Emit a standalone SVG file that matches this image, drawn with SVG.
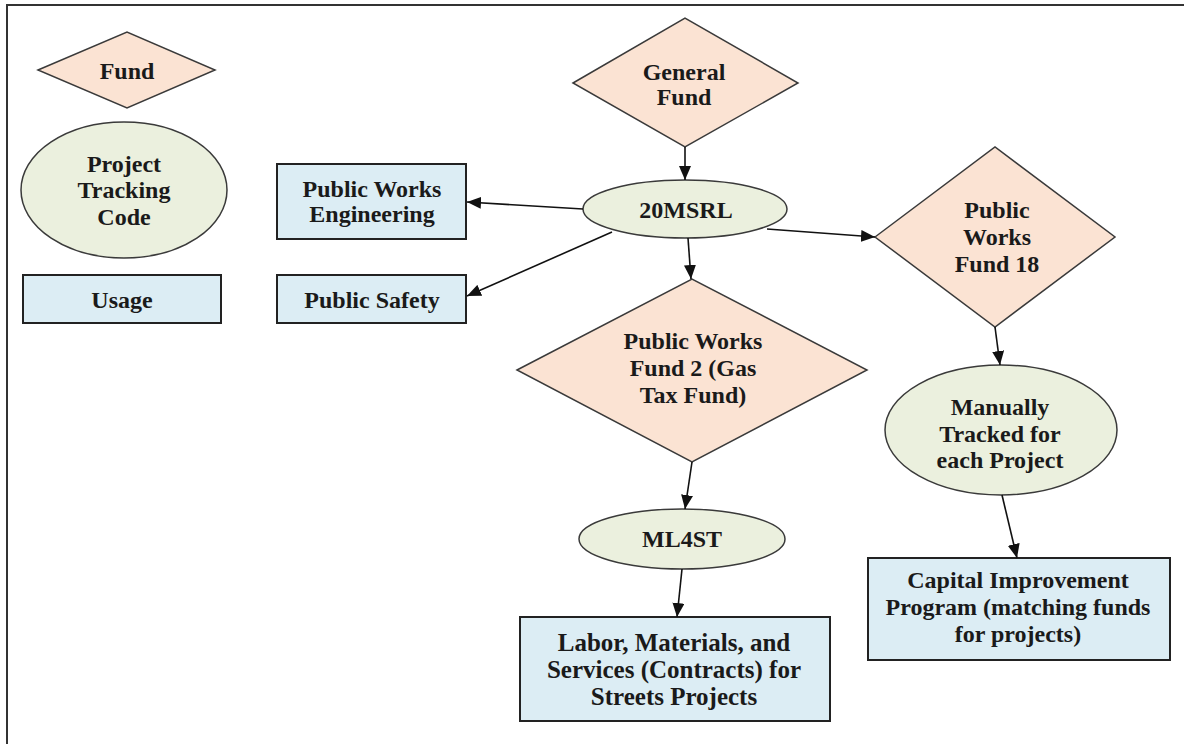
<svg xmlns="http://www.w3.org/2000/svg" width="1184" height="744" viewBox="0 0 1184 744">
<defs>
<marker id="ah" markerUnits="userSpaceOnUse" markerWidth="14" markerHeight="12" refX="14" refY="6" orient="auto">
<path d="M0,0 L14,6 L0,12 z" fill="#111"/>
</marker>
<style>
.fund{fill:#FBE3D3;stroke:#3a3a3a;stroke-width:1.5}
.code{fill:#EBF0DE;stroke:#3a3a3a;stroke-width:1.5}
.use{fill:#DCEDF4;stroke:#222;stroke-width:2}
.t{font-family:"Liberation Serif","Times New Roman",serif;font-weight:bold;font-size:24px;fill:#1a1a1a;text-anchor:middle}
.big{font-size:25px}
.c{fill:none;stroke:#111;stroke-width:1.6;marker-end:url(#ah)}
</style>
</defs>
<rect width="1184" height="744" fill="#fff"/>
<path d="M7,744 L7,5 L1184,5" fill="none" stroke="#333" stroke-width="2"/>

<g id="legend-fund">
<polygon class="fund" points="38,70 127,32 215,70 127,108"/>
<text class="t" x="127" y="79">Fund</text>
</g>
<g id="legend-code">
<ellipse class="code" cx="124" cy="190" rx="103" ry="68"/>
<text class="t" x="124" y="172">Project</text>
<text class="t" x="124" y="198">Tracking</text>
<text class="t" x="124" y="225">Code</text>
</g>
<g id="legend-usage">
<rect class="use" x="23" y="275" width="198" height="48"/>
<text class="t" x="122" y="308">Usage</text>
</g>

<g id="general-fund">
<polygon class="fund" points="573,83 685,18 798,83 685,147"/>
<text class="t" x="684" y="80">General</text>
<text class="t" x="684" y="105">Fund</text>
</g>
<g id="c20msrl">
<ellipse class="code" cx="685" cy="209" rx="102" ry="29"/>
<text class="t" x="686" y="218">20MSRL</text>
</g>
<g id="pw-engineering">
<rect class="use" x="277" y="164" width="189" height="75"/>
<text class="t" x="372" y="197">Public Works</text>
<text class="t" x="372" y="222">Engineering</text>
</g>
<g id="public-safety">
<rect class="use" x="277" y="275" width="189" height="48"/>
<text class="t" x="372" y="308">Public Safety</text>
</g>
<g id="pw-fund2">
<polygon class="fund" points="517,370 692,279 867,370 692,462"/>
<text class="t" x="693" y="349">Public Works</text>
<text class="t" x="693" y="376">Fund 2 (Gas</text>
<text class="t" x="693" y="403">Tax Fund)</text>
</g>
<g id="ml4st">
<ellipse class="code" cx="682" cy="539" rx="103" ry="30"/>
<text class="t" x="682" y="547">ML4ST</text>
</g>
<g id="labor">
<rect class="use" x="520" y="617" width="310" height="104"/>
<text class="t big" x="674" y="651">Labor, Materials, and</text>
<text class="t big" x="674" y="678">Services (Contracts) for</text>
<text class="t big" x="674" y="705">Streets Projects</text>
</g>
<g id="pw-fund18">
<polygon class="fund" points="875,237 995,147 1115,237 995,327"/>
<text class="t" x="997" y="218">Public</text>
<text class="t" x="997" y="245">Works</text>
<text class="t" x="997" y="272">Fund 18</text>
</g>
<g id="manually">
<ellipse class="code" cx="1001" cy="430" rx="116" ry="65"/>
<text class="t" x="1000" y="415">Manually</text>
<text class="t" x="1000" y="442">Tracked for</text>
<text class="t" x="1000" y="468">each Project</text>
</g>
<g id="capital">
<rect class="use" x="868" y="558" width="302" height="102"/>
<text class="t" x="1018" y="588">Capital Improvement</text>
<text class="t" x="1018" y="615">Program (matching funds</text>
<text class="t" x="1018" y="642">for projects)</text>
</g>

<g id="connectors">
<line class="c" x1="685" y1="147" x2="685" y2="180"/>
<line class="c" x1="583" y1="209" x2="467" y2="202"/>
<line class="c" x1="612" y1="232" x2="467" y2="296"/>
<line class="c" x1="688" y1="238" x2="691" y2="279"/>
<line class="c" x1="767" y1="229" x2="875" y2="237"/>
<line class="c" x1="692" y1="462" x2="685" y2="509"/>
<line class="c" x1="682" y1="569" x2="677" y2="617"/>
<line class="c" x1="995" y1="327" x2="1000" y2="365"/>
<line class="c" x1="1002" y1="495" x2="1017" y2="558"/>
</g>
</svg>
